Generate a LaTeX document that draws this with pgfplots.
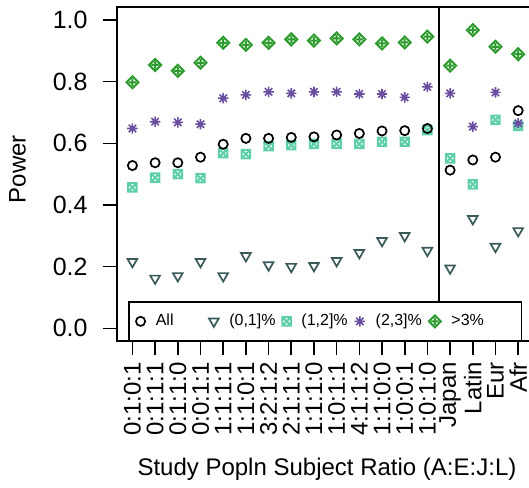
\documentclass[border=0pt]{standalone}
\usepackage{fontspec}
\setmainfont{Liberation Sans}
\usepackage{pgfplots}
\pgfplotsset{compat=1.18}
\usetikzlibrary{plotmarks}

\definecolor{cgreen}{HTML}{2E9B2E}
\definecolor{cpurple}{HTML}{6A4FA0}
\definecolor{cteal}{HTML}{5FCFAA}
\definecolor{cslate}{HTML}{3A5A5A}

\pgfdeclareplotmark{sqx}{%
  \pgfpathrectangle{\pgfpoint{-\pgfplotmarksize}{-\pgfplotmarksize}}{\pgfpoint{2\pgfplotmarksize}{2\pgfplotmarksize}}%
  \pgfpathmoveto{\pgfpoint{-\pgfplotmarksize}{-\pgfplotmarksize}}\pgfpathlineto{\pgfpoint{\pgfplotmarksize}{\pgfplotmarksize}}%
  \pgfpathmoveto{\pgfpoint{-\pgfplotmarksize}{\pgfplotmarksize}}\pgfpathlineto{\pgfpoint{\pgfplotmarksize}{-\pgfplotmarksize}}%
  \pgfusepathqstroke}
\pgfdeclareplotmark{dplus}{%
  \pgfpathmoveto{\pgfpoint{0pt}{\pgfplotmarksize}}%
  \pgfpathlineto{\pgfpoint{\pgfplotmarksize}{0pt}}%
  \pgfpathlineto{\pgfpoint{0pt}{-\pgfplotmarksize}}%
  \pgfpathlineto{\pgfpoint{-\pgfplotmarksize}{0pt}}%
  \pgfpathclose
  \pgfpathmoveto{\pgfpoint{0pt}{0.6\pgfplotmarksize}}\pgfpathlineto{\pgfpoint{0pt}{-0.6\pgfplotmarksize}}%
  \pgfpathmoveto{\pgfpoint{-0.6\pgfplotmarksize}{0pt}}\pgfpathlineto{\pgfpoint{0.6\pgfplotmarksize}{0pt}}%
  \pgfusepathqstroke}
\pgfdeclareplotmark{ast8}{%
  \pgfpathmoveto{\pgfpoint{0pt}{\pgfplotmarksize}}\pgfpathlineto{\pgfpoint{0pt}{-\pgfplotmarksize}}%
  \pgfpathmoveto{\pgfpoint{-\pgfplotmarksize}{0pt}}\pgfpathlineto{\pgfpoint{\pgfplotmarksize}{0pt}}%
  \pgfpathmoveto{\pgfpoint{-0.707\pgfplotmarksize}{-0.707\pgfplotmarksize}}\pgfpathlineto{\pgfpoint{0.707\pgfplotmarksize}{0.707\pgfplotmarksize}}%
  \pgfpathmoveto{\pgfpoint{-0.707\pgfplotmarksize}{0.707\pgfplotmarksize}}\pgfpathlineto{\pgfpoint{0.707\pgfplotmarksize}{-0.707\pgfplotmarksize}}%
  \pgfusepathqstroke}

\tikzset{
  sAll/.style={black, line width=0.85pt, mark=o, mark size=2.3pt},
  sA/.style={cslate, line width=0.85pt, mark=triangle, mark size=2.8pt, mark options={rotate=180}},
  sB/.style={cteal, line width=1pt, mark=sqx, mark size=2.1pt},
  sC/.style={cpurple, line width=0.8pt, mark=ast8, mark size=2.6pt},
  sD/.style={cgreen, line width=1pt, mark=dplus, mark size=3pt},
}

\begin{document}
\begin{tikzpicture}
\begin{axis}[name=ax, scale only axis, width=208.3pt, height=166.85pt,
  xmin=0.32, xmax=18.68, ymin=-0.04, ymax=1.042,
  xtick={1,...,18},
  xticklabels={0:1:0:1,0:1:1:1,0:1:1:0,0:0:1:1,1:1:1:1,1:1:0:1,3:2:1:2,2:1:1:1,1:1:1:0,1:0:1:1,4:1:1:2,1:1:0:0,1:0:0:1,1:0:1:0,Japan,Latin,Eur,Afr},
  x tick label style={rotate=90, anchor=east, font=\fontsize{12}{14}\selectfont},
  ytick={0,0.2,0.4,0.6,0.8,1.0},
  yticklabels={0.0,0.2,0.4,0.6,0.8,1.0},
  y tick label style={font=\fontsize{12.5}{14}\selectfont, xshift=-4pt},
  axis line style={line width=0.8pt},
  tick style={line width=0.8pt, black},
  major tick length=7.2pt, tick align=outside, tick pos=left,
  xlabel={Study Popln Subject Ratio (A:E:J:L)},
  ylabel={Power},
  every axis x label/.style={at={(axis description cs:0.504,-0.3845)}, anchor=center, font=\fontsize{12}{14}\selectfont},
  every axis y label/.style={at={(axis description cs:-0.2388,0.5145)}, anchor=center, rotate=90, font=\fontsize{12}{14}\selectfont},
  legend image code/.code={\draw[#1] plot coordinates {(0pt,0pt)};},
  legend columns=5,
  legend style={at={(axis description cs:0.0446,0.058)}, anchor=west, draw=none, fill=none,
    inner xsep=0pt, inner ysep=0pt, font=\fontsize{8}{9.6}\selectfont,
    nodes={inner sep=1pt},
    /tikz/every odd column/.append style={column sep=4.3pt},
    /tikz/every even column/.append style={column sep=1.6pt}},
]
\draw[line width=0.8pt] (axis cs:0.855,-0.05) rectangle (axis cs:18.15,0.086);
\draw[line width=0.8pt] (axis cs:14.5,0.086) -- (axis cs:14.5,1.05);

\addlegendimage{sAll}\addlegendentry{\makebox[24pt][l]{All}}
\addlegendimage{sA}\addlegendentry{\makebox[24pt][l]{(0,1]\%}}
\addlegendimage{sB}\addlegendentry{\makebox[24pt][l]{(1,2]\%}}
\addlegendimage{sC}\addlegendentry{\makebox[24pt][l]{(2,3]\%}}
\addlegendimage{sD}\addlegendentry{\makebox[24pt][l]{>3\%}}

\addplot[sA, only marks, forget plot] coordinates {
(1,0.216)(2,0.162)(3,0.170)(4,0.216)(5,0.170)(6,0.235)(7,0.205)(8,0.200)(9,0.203)(10,0.219)(11,0.245)(12,0.284)(13,0.300)(14,0.252)(15,0.195)(16,0.355)(17,0.265)(18,0.316)};
\addplot[sB, only marks, forget plot] coordinates {
(1,0.457)(2,0.489)(3,0.500)(4,0.487)(5,0.568)(6,0.565)(7,0.591)(8,0.594)(9,0.598)(10,0.598)(11,0.598)(12,0.605)(13,0.605)(14,0.643)(15,0.551)(16,0.467)(17,0.676)(18,0.656)};
\addplot[sC, only marks, forget plot] coordinates {
(1,0.648)(2,0.670)(3,0.668)(4,0.662)(5,0.746)(6,0.757)(7,0.767)(8,0.762)(9,0.767)(10,0.767)(11,0.760)(12,0.760)(13,0.749)(14,0.783)(15,0.762)(16,0.654)(17,0.765)(18,0.665)};
\addplot[sD, only marks, forget plot] coordinates {
(1,0.798)(2,0.854)(3,0.835)(4,0.861)(5,0.926)(6,0.919)(7,0.926)(8,0.937)(9,0.933)(10,0.940)(11,0.937)(12,0.924)(13,0.927)(14,0.946)(15,0.852)(16,0.967)(17,0.913)(18,0.889)};
\addplot[sAll, only marks, forget plot] coordinates {
(1,0.528)(2,0.537)(3,0.537)(4,0.555)(5,0.597)(6,0.616)(7,0.616)(8,0.619)(9,0.621)(10,0.627)(11,0.632)(12,0.640)(13,0.641)(14,0.648)(15,0.513)(16,0.546)(17,0.555)(18,0.706)};
\end{axis}
\pgfresetboundingbox
\path[use as bounding box] ([shift={(-58.5pt,-73.15pt)}]ax.south west) rectangle ([shift={(206pt,3.5pt)}]ax.north west);
\end{tikzpicture}
\end{document}
